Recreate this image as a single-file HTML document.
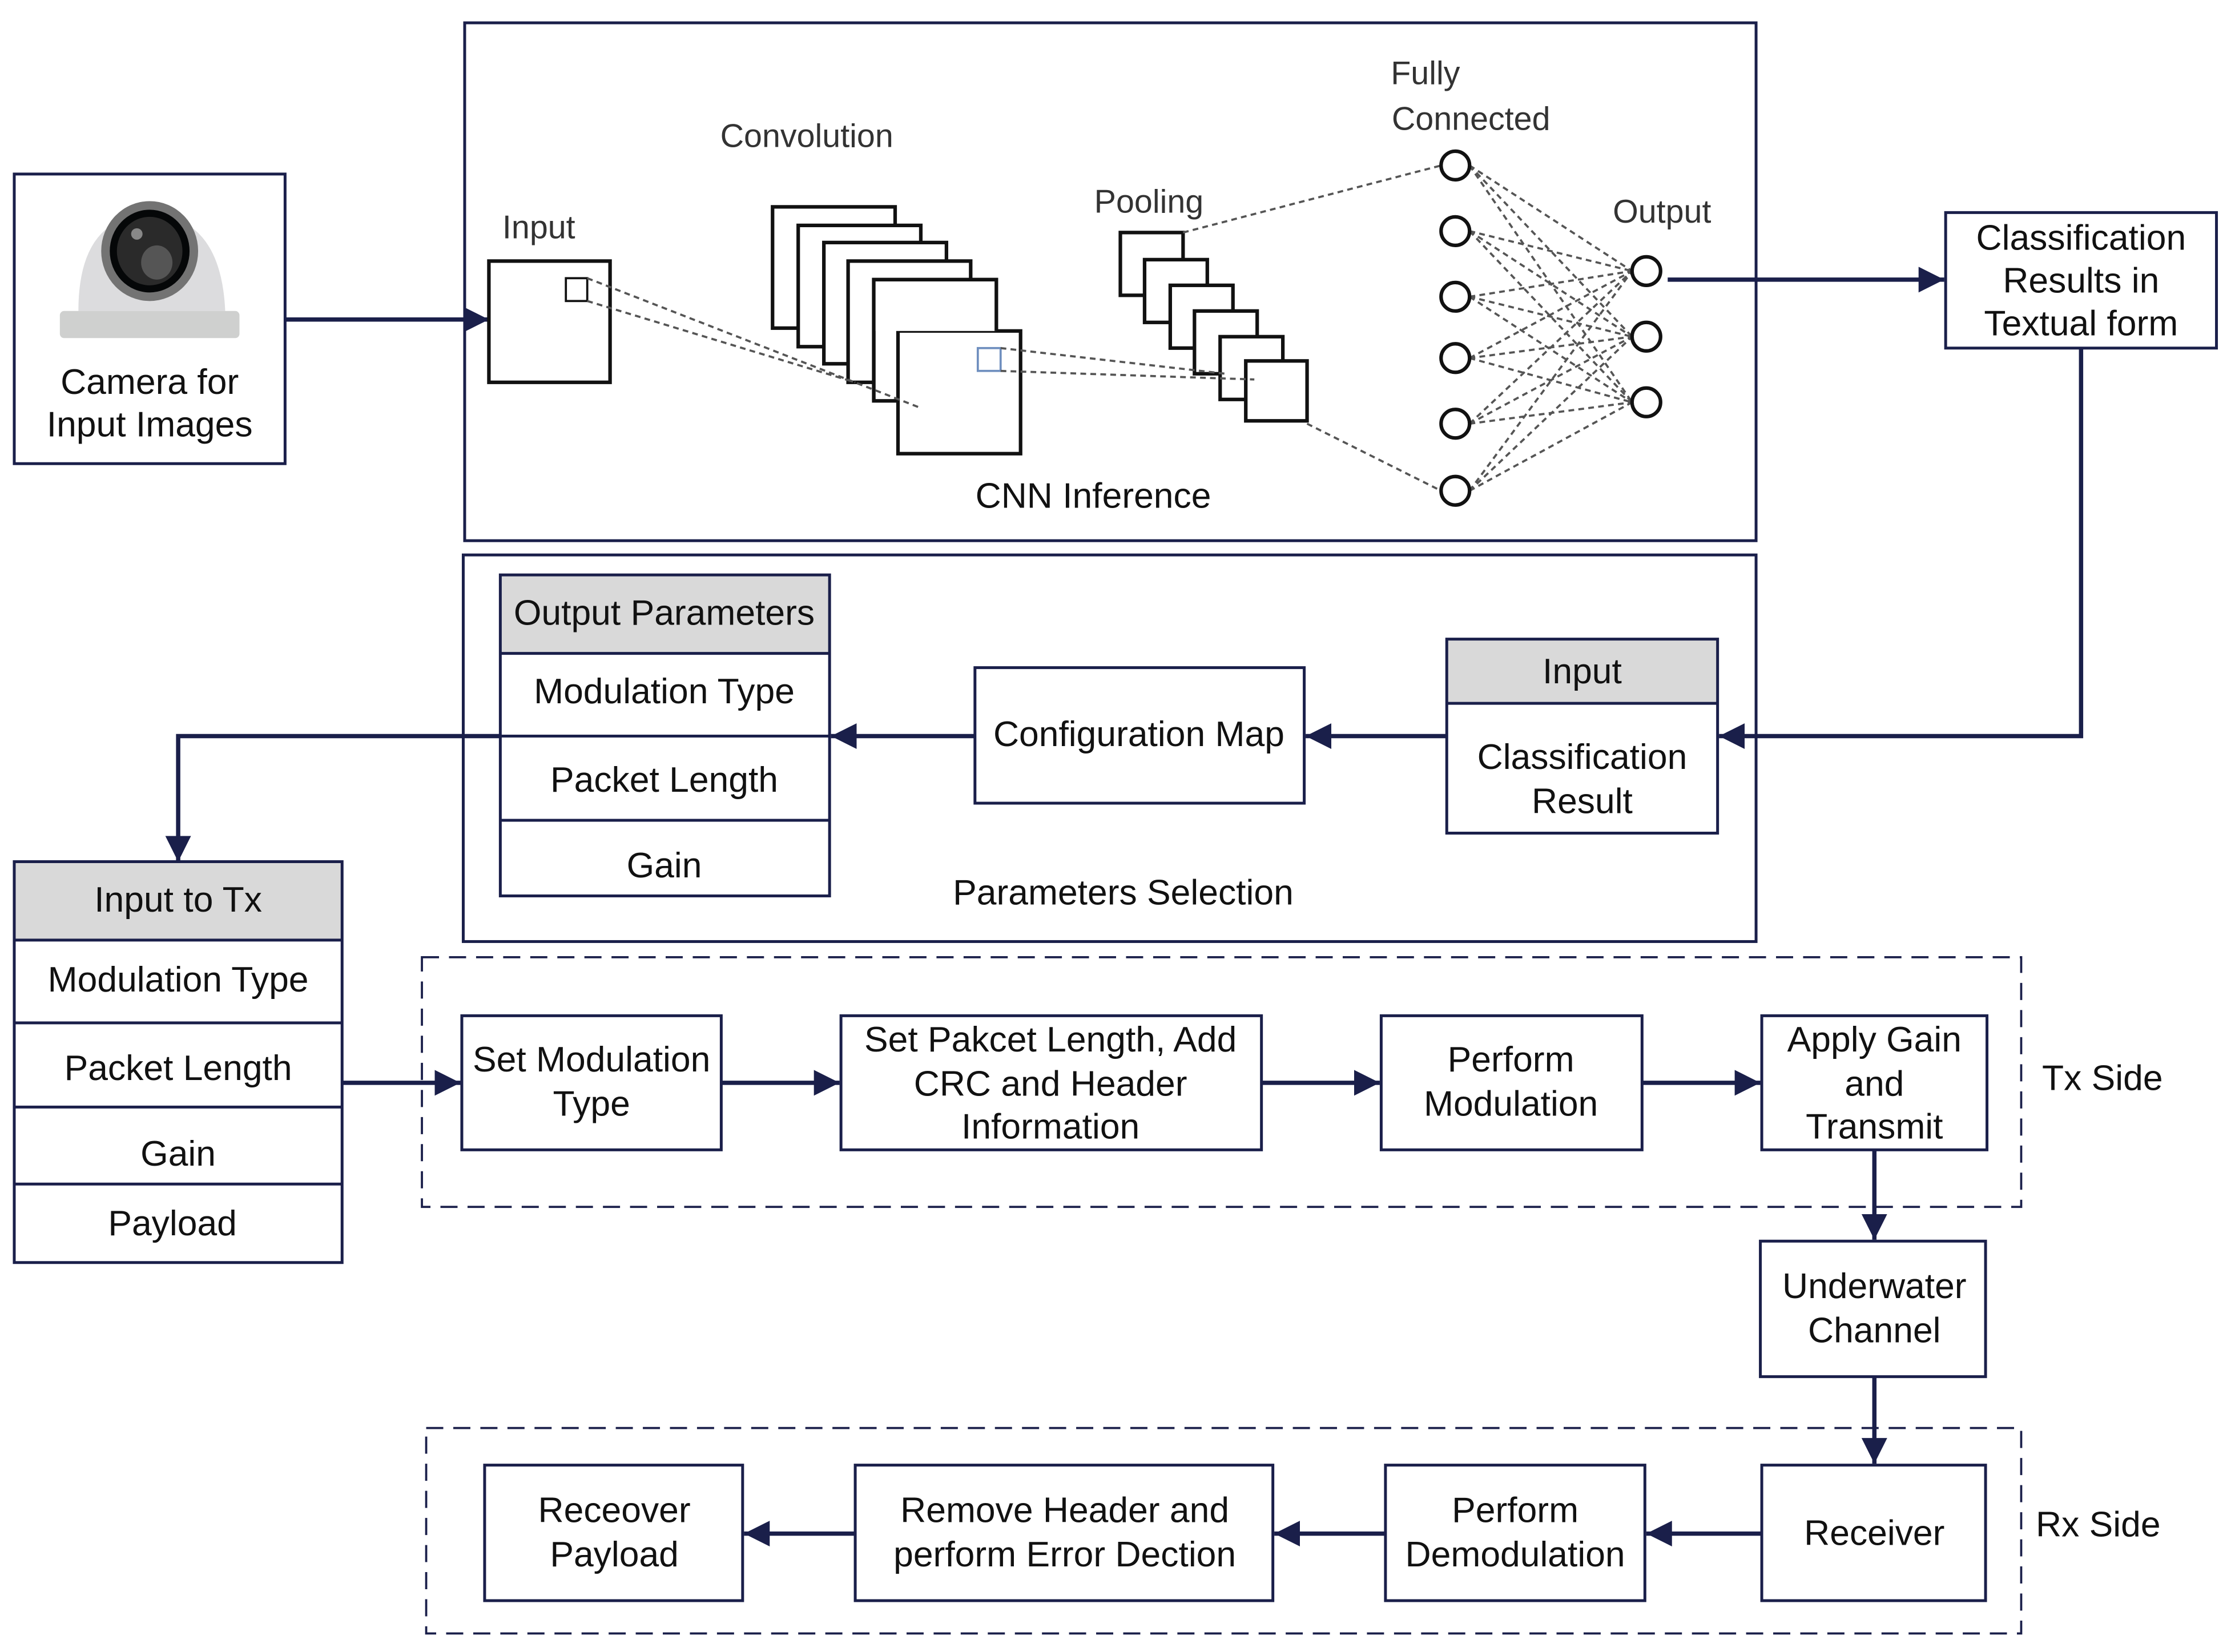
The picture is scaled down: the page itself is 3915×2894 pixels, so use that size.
<!DOCTYPE html>
<html><head><meta charset="utf-8"><style>
html,body{margin:0;padding:0;background:#fff}
svg{display:block}
text{font-family:"Liberation Sans",sans-serif;fill:#111}
</style></head><body>
<svg width="3915" height="2894" viewBox="0 0 1568 1158" preserveAspectRatio="none" xmlns="http://www.w3.org/2000/svg">
<defs>
<marker id="b" viewBox="0 0 10 10" refX="10" refY="5" markerWidth="18" markerHeight="18" orient="auto" markerUnits="userSpaceOnUse"><path d="M0,0 L10,5 L0,10z" fill="#1a1f4a"/></marker>
</defs>
<g fill="none" stroke="#1a1f4a" stroke-width="2">
<rect x="10" y="122" width="190" height="203"/>
<rect x="326" y="16" width="906" height="363"/>
<rect x="1365" y="149" width="190" height="95"/>
<rect x="325" y="389" width="907" height="271"/>
<rect x="684" y="468" width="231" height="95"/>
<rect x="324" y="712" width="182" height="94"/>
<rect x="590" y="712" width="295" height="94"/>
<rect x="969" y="712" width="183" height="94"/>
<rect x="1236" y="712" width="158" height="94"/>
<rect x="1235" y="870" width="158" height="95"/>
<rect x="340" y="1027" width="181" height="95"/>
<rect x="600" y="1027" width="293" height="95"/>
<rect x="972" y="1027" width="182" height="95"/>
<rect x="1236" y="1027" width="157" height="95"/>
<rect x="296" y="671" width="1122" height="175" stroke-dasharray="12,7" stroke-width="1.5"/>
<rect x="299" y="1001" width="1119" height="144" stroke-dasharray="12,7" stroke-width="1.5"/>
</g>
<rect x="351" y="403" width="231" height="55" fill="#d9d9d9"/>
<rect x="1015" y="448" width="190" height="45" fill="#d9d9d9"/>
<rect x="10" y="604" width="230" height="55" fill="#d9d9d9"/>
<g fill="none" stroke="#1a1f4a" stroke-width="2">
<rect x="351" y="403" width="231" height="225"/>
<path d="M351 458H582M351 516H582M351 575H582"/>
<rect x="1015" y="448" width="190" height="136"/>
<path d="M1015 493H1205"/>
<rect x="10" y="604" width="230" height="281"/>
<path d="M10 659H240M10 717H240M10 776H240M10 830H240"/>
</g>
<g fill="none" stroke="#1a1f4a" stroke-width="3">
<path d="M200 224H343" marker-end="url(#b)"/>
<path d="M1170 196H1364" marker-end="url(#b)"/>
<path d="M1460 244V516H1206" marker-end="url(#b)"/>
<path d="M1015 516H916" marker-end="url(#b)"/>
<path d="M684 516H583" marker-end="url(#b)"/>
<path d="M351 516H125V604" marker-end="url(#b)"/>
<path d="M240 759H323" marker-end="url(#b)"/>
<path d="M506 759H589" marker-end="url(#b)"/>
<path d="M885 759H968" marker-end="url(#b)"/>
<path d="M1152 759H1235" marker-end="url(#b)"/>
<path d="M1315 806V869" marker-end="url(#b)"/>
<path d="M1315 965V1026" marker-end="url(#b)"/>
<path d="M1236 1075H1155" marker-end="url(#b)"/>
<path d="M972 1075H894" marker-end="url(#b)"/>
<path d="M600 1075H522" marker-end="url(#b)"/>
</g>
<path d="M55 218 Q55 152 105 150 Q155 152 158 218Z" fill="#dcdcde"/>
<rect x="42" y="218" width="126" height="19" rx="3" fill="#cfd0cf"/>
<ellipse cx="105" cy="176" rx="34" ry="35" fill="#737373"/>
<ellipse cx="105" cy="176" rx="28" ry="29" fill="#050708"/>
<ellipse cx="105" cy="176" rx="23" ry="24" fill="#2a2a2a"/>
<ellipse cx="110" cy="184" rx="11" ry="12" fill="#555"/>
<circle cx="96" cy="164" r="4" fill="#888"/>
<g fill="#fff" stroke="#111" stroke-width="2.5">
<rect x="343" y="183" width="85" height="85"/>
<rect x="542" y="145" width="86" height="85"/>
<rect x="560" y="158" width="86" height="85"/>
<rect x="578" y="170" width="86" height="85"/>
<rect x="595" y="183" width="86" height="85"/>
<rect x="613" y="196" width="86" height="85"/>
<rect x="630" y="232" width="86" height="86"/>
<rect x="786" y="163" width="44" height="44"/>
<rect x="803" y="182" width="44" height="44"/>
<rect x="821" y="200" width="44" height="44"/>
<rect x="838" y="218" width="44" height="44"/>
<rect x="856" y="236" width="44" height="44"/>
<rect x="874" y="253" width="43" height="42"/>
</g>
<rect x="613" y="196" width="86" height="36" fill="#fff" stroke="none"/>
<path d="M613 281V196H699V232" fill="none" stroke="#111" stroke-width="2.5"/>
<rect x="397" y="195" width="15" height="16" fill="none" stroke="#111" stroke-width="1.5"/>
<rect x="686" y="244" width="16" height="16" fill="none" stroke="#6f8fbf" stroke-width="1.5"/>
<g fill="none" stroke="#555" stroke-width="1.5" stroke-dasharray="4,3">
<path d="M412 195L646 286M412 211L600 268"/>
<path d="M702 244L860 262M702 260L880 266"/>
<path d="M830 163L1011 116M917 297L1011 344"/>
<path d="M1031 116L1145 190M1031 116L1145 236M1031 116L1145 282M1031 162L1145 190M1031 162L1145 236M1031 162L1145 282M1031 208L1145 190M1031 208L1145 236M1031 208L1145 282M1031 251L1145 190M1031 251L1145 236M1031 251L1145 282M1031 297L1145 190M1031 297L1145 236M1031 297L1145 282M1031 344L1145 190M1031 344L1145 236M1031 344L1145 282"/>
</g>
<g fill="#fff" stroke="#111" stroke-width="2.5">
<circle cx="1021" cy="116" r="10"/><circle cx="1021" cy="162" r="10"/><circle cx="1021" cy="208" r="10"/>
<circle cx="1021" cy="251" r="10"/><circle cx="1021" cy="297" r="10"/><circle cx="1021" cy="344" r="10"/>
<circle cx="1155" cy="190" r="10"/><circle cx="1155" cy="236" r="10"/><circle cx="1155" cy="282" r="10"/>
</g>
<g font-size="23" text-anchor="middle">
<text x="378" y="167" style="fill:#333">Input</text>
<text x="566" y="103" style="fill:#333">Convolution</text>
<text x="806" y="149" style="fill:#333">Pooling</text>
<text x="1000" y="59" style="fill:#333">Fully</text>
<text x="1032" y="91" style="fill:#333">Connected</text>
<text x="1166" y="156" style="fill:#333">Output</text>
</g>
<g font-size="25" text-anchor="middle">
<text x="105" y="276">Camera for</text>
<text x="105" y="306">Input Images</text>
<text x="767" y="356">CNN Inference</text>
<text x="1460" y="175">Classification</text>
<text x="1460" y="205">Results in</text>
<text x="1460" y="235">Textual form</text>
<text x="466" y="438">Output Parameters</text>
<text x="466" y="493">Modulation Type</text>
<text x="466" y="555">Packet Length</text>
<text x="466" y="615">Gain</text>
<text x="799" y="523">Configuration Map</text>
<text x="1110" y="479">Input</text>
<text x="1110" y="539">Classification</text>
<text x="1110" y="570">Result</text>
<text x="788" y="634">Parameters Selection</text>
<text x="125" y="639">Input to Tx</text>
<text x="125" y="695">Modulation Type</text>
<text x="125" y="757">Packet Length</text>
<text x="125" y="817">Gain</text>
<text x="121" y="866">Payload</text>
<text x="415" y="751">Set Modulation</text>
<text x="415" y="782">Type</text>
<text x="737" y="737">Set Pakcet Length, Add</text>
<text x="737" y="768">CRC and Header</text>
<text x="737" y="798">Information</text>
<text x="1060" y="751">Perform</text>
<text x="1060" y="782">Modulation</text>
<text x="1315" y="737">Apply Gain</text>
<text x="1315" y="768">and</text>
<text x="1315" y="798">Transmit</text>
<text x="1475" y="764">Tx Side</text>
<text x="1315" y="910">Underwater</text>
<text x="1315" y="941">Channel</text>
<text x="431" y="1067">Receover</text>
<text x="431" y="1098">Payload</text>
<text x="747" y="1067">Remove Header and</text>
<text x="747" y="1098">perform Error Dection</text>
<text x="1063" y="1067">Perform</text>
<text x="1063" y="1098">Demodulation</text>
<text x="1315" y="1083">Receiver</text>
<text x="1472" y="1077">Rx Side</text>
</g>
</svg>
</body></html>
